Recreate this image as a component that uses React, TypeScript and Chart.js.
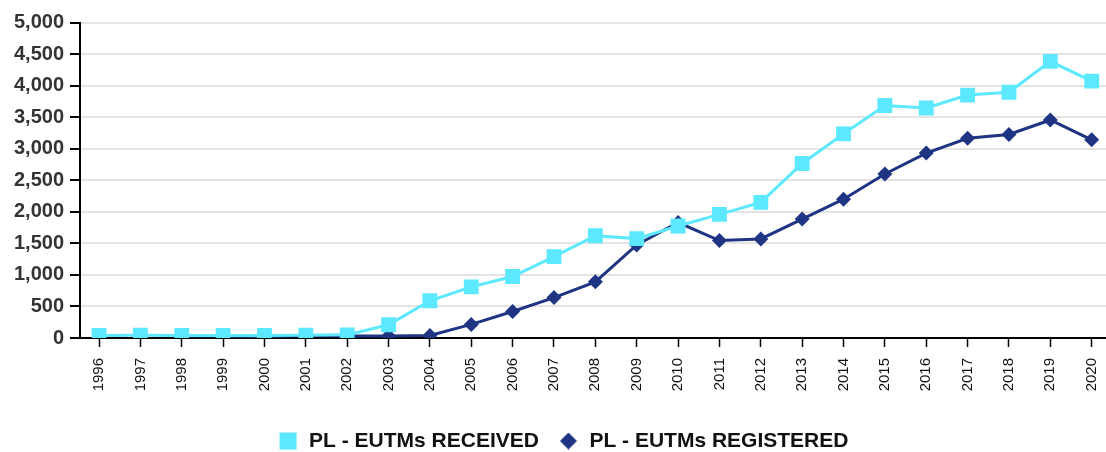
import React, { useEffect, useRef } from "react";
import { Chart, registerables } from "chart.js";

Chart.register(...registerables);

const years = [1996, 1997, 1998, 1999, 2000, 2001, 2002, 2003, 2004, 2005, 2006, 2007, 2008, 2009, 2010, 2011, 2012, 2013, 2014, 2015, 2016, 2017, 2018, 2019, 2020];
const received = [40, 45, 40, 40, 40, 45, 50, 210, 590, 810, 975, 1290, 1620, 1575, 1775, 1960, 2150, 2765, 3235, 3685, 3645, 3850, 3895, 4385, 4070];
const registered = [null, null, 30, 30, 20, 40, 30, 30, 40, 215, 420, 640, 890, 1475, 1830, 1545, 1570, 1885, 2200, 2600, 2930, 3165, 3225, 3455, 3140];
const yTicks = [0, 500, 1000, 1500, 2000, 2500, 3000, 3500, 4000, 4500, 5000];

const receivedLabel = "PL - EUTMs RECEIVED";
const registeredLabel = "PL - EUTMs REGISTERED";

const FONT = "'Liberation Sans', Arial, Helvetica, sans-serif";
const CYAN = "#5ce8ff";
const NAVY = "#1f3583";

const shiftLegend = {
  id: "shiftLegend",
  afterLayout(chart: any) {
    const l = chart.legend;
    if (l) {
      l.top += 9.5;
      l.bottom += 9.5;
      l.left += 10;
      l.right += 10;
    }
  },
};

function makeDiamond(size: number, color: string) {
  const c = document.createElement("canvas");
  c.width = size;
  c.height = size;
  const g = c.getContext("2d")!;
  g.fillStyle = color;
  g.beginPath();
  g.moveTo(size / 2, 0);
  g.lineTo(size, size / 2);
  g.lineTo(size / 2, size);
  g.lineTo(0, size / 2);
  g.closePath();
  g.fill();
  return c;
}

export default function App() {
  const ref = useRef<HTMLCanvasElement | null>(null);
  useEffect(() => {
    document.body.style.margin = "0";
    const ctx = ref.current!;
    const diamond = makeDiamond(17, NAVY);
    const chart = new Chart(ctx, {
      type: "line",
      plugins: [shiftLegend],
      data: {
        datasets: [
          {
            label: receivedLabel,
            data: years.map((y, i) => ({ x: y, y: received[i] })),
            borderColor: CYAN,
            backgroundColor: CYAN,
            borderWidth: 3,
            pointStyle: "rect",
            pointRadius: 10.5,
            pointBorderWidth: 0,
            tension: 0,
          },
          {
            label: registeredLabel,
            data: years.map((y, i) => ({ x: y, y: registered[i] as any })),
            borderColor: NAVY,
            backgroundColor: NAVY,
            borderWidth: 3,
            pointStyle: "rectRot",
            pointRadius: 7.5,
            pointBorderWidth: 0,
            tension: 0,
          },
        ],
      },
      options: {
        animation: false,
        responsive: false,
        maintainAspectRatio: false,
        layout: { autoPadding: false, padding: { top: 22.5, right: 0, left: 0, bottom: 0 } },
        plugins: {
          tooltip: { enabled: false },
          legend: {
            position: "bottom",
            labels: {
              usePointStyle: true,
              color: "#111",
              boxHeight: 17,
              padding: 19,
              font: { family: FONT, size: 21, weight: "bold" },
              generateLabels: (c: any) => {
                const items = Chart.defaults.plugins.legend.labels.generateLabels(c);
                if (items[1]) items[1].pointStyle = diamond as any;
                return items;
              },
            },
          },
        },
        scales: {
          x: {
            type: "linear",
            min: 1995.54,
            max: 2020.346,
            afterBuildTicks: (axis: any) => {
              axis.ticks = years.map((v) => ({ value: v }));
            },
            afterFit: (axis: any) => {
              axis.height = 64;
              axis.paddingLeft = 0;
              axis.paddingRight = 0;
            },
            ticks: {
              autoSkip: false,
              minRotation: 90,
              maxRotation: 90,
              color: "#111",
              padding: 11,
              font: { family: FONT, size: 15 },
              callback: (v: any) => String(v),
            },
            grid: { display: true, drawOnChartArea: false, tickLength: 9, tickColor: "#000", tickWidth: 1.5 },
            border: { color: "#000", width: 2 },
          },
          y: {
            min: 0,
            max: 5000,
            afterBuildTicks: (axis: any) => {
              axis.ticks = yTicks.map((v) => ({ value: v }));
            },
            afterFit: (axis: any) => {
              axis.width = 80;
              axis.paddingTop = 0;
              axis.paddingBottom = 0;
            },
            ticks: {
              color: "#333",
              padding: 6,
              font: { family: FONT, size: 20, weight: "bold" },
              callback: (v: any) => Number(v).toLocaleString("en-US"),
            },
            grid: { color: "#e4e4e4", lineWidth: 2, tickLength: 10, tickColor: "#000", tickWidth: 2 },
            border: { color: "#000", width: 2 },
          },
        },
      },
    });
    return () => chart.destroy();
  }, []);
  return (
    <div style={{ width: 1106, height: 452 }}>
      <canvas ref={ref} width={1106} height={452} style={{ width: 1106, height: 452, display: "block" }} />
    </div>
  );
}
